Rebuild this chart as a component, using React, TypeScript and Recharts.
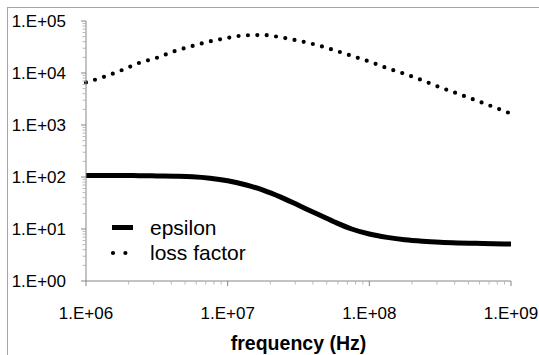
import React from 'react';
import { LineChart, Line, XAxis, YAxis, Legend } from 'recharts';

// frequency samples (Hz), 1/8 decade apart
const FREQUENCIES = [
  1.0e6, 1.334e6, 1.778e6, 2.371e6, 3.162e6, 4.217e6, 5.623e6, 7.499e6,
  1.0e7, 1.334e7, 1.778e7, 2.371e7, 3.162e7, 4.217e7, 5.623e7, 7.499e7,
  1.0e8, 1.334e8, 1.778e8, 2.371e8, 3.162e8, 4.217e8, 5.623e8, 7.499e8,
  1.0e9,
];
const EPSILON = [
  107, 107, 107, 106, 105, 103.5, 101, 95,
  85, 71, 56, 41, 28.5, 19.8, 13.8, 10.0,
  8.0, 6.9, 6.2, 5.8, 5.55, 5.4, 5.3, 5.2,
  5.15,
];
const LOSS_FACTOR = [
  6600, 8400, 11250, 15600, 19600, 26300, 33000, 40500,
  47300, 53000, 53700, 48600, 41700, 34800, 27600, 21400,
  16600, 12400, 9600, 7200, 5300, 4000, 3000, 2230,
  1650,
];

const X_MAJOR = [1e6, 1e7, 1e8, 1e9];
const X_LABELS = ['1.E+06', '1.E+07', '1.E+08', '1.E+09'];
const Y_MAJOR = [1, 10, 100, 1e3, 1e4, 1e5];
const Y_LABELS = ['1.E+00', '1.E+01', '1.E+02', '1.E+03', '1.E+04', '1.E+05'];
const MINOR_STEPS = [2, 3, 4, 5, 6, 7, 8, 9];

const withMinors = (majors: number[]) => {
  const out: number[] = [];
  majors.forEach((m, i) => {
    out.push(m);
    if (i < majors.length - 1) MINOR_STEPS.forEach((s) => out.push(m * s));
  });
  return out;
};

const X_TICKS = withMinors(X_MAJOR);
const Y_TICKS = withMinors(Y_MAJOR);

const data = FREQUENCIES.map((f, i) => ({ f, epsilon: EPSILON[i], loss: LOSS_FACTOR[i] }));

const AXIS = '#868686';
const MINOR = '#b8b8b8';
const FONT = '"Liberation Sans", Arial, sans-serif';

const XTick = ({ x, y, payload }: any) => {
  const idx = X_MAJOR.indexOf(payload.value);
  const major = idx >= 0;
  return (
    <g>
      <line x1={x} x2={x} y1={y} y2={y + (major ? 5 : 3.5)} stroke={major ? AXIS : MINOR} />
      {major && (
        <text x={x} y={y + 38} textAnchor="middle" fontSize={17} fontFamily={FONT} fill="#000">
          {X_LABELS[idx]}
        </text>
      )}
    </g>
  );
};

const YTick = ({ x, y, payload }: any) => {
  const idx = Y_MAJOR.indexOf(payload.value);
  const major = idx >= 0;
  return (
    <g>
      <line x1={x} x2={x - (major ? 5 : 3.5)} y1={y} y2={y} stroke={major ? AXIS : MINOR} />
      {major && (
        <text x={x - 20} y={y + 6} textAnchor="end" fontSize={17} fontFamily={FONT} fill="#000">
          {Y_LABELS[idx]}
        </text>
      )}
    </g>
  );
};

const LegendBox = () => (
  <div style={{ fontFamily: FONT, fontSize: 21, color: '#000', lineHeight: '25px' }}>
    <div style={{ display: 'flex', alignItems: 'center' }}>
      <svg width={42} height={25}>
        <line x1={4} x2={25} y1={12.5} y2={12.5} stroke="#000" strokeWidth={5} />
      </svg>
      <span>epsilon</span>
    </div>
    <div style={{ display: 'flex', alignItems: 'center' }}>
      <svg width={42} height={25}>
        <line x1={5} x2={18} y1={13} y2={13} stroke="#000" strokeWidth={4.2}
          strokeDasharray="0 12.4" strokeLinecap="round" />
      </svg>
      <span>loss factor</span>
    </div>
  </div>
);

const App: React.FC = () => {
  return (
    <div style={{ position: 'absolute', left: 0, top: 0, width: 539, height: 355, overflow: 'hidden', background: '#fff' }}>
      <div style={{
        position: 'absolute', left: 7, top: 7, width: 600, height: 400,
        borderTop: '1px solid #a6a6a6', borderLeft: '1px solid #a6a6a6',
      }} />
      <div style={{ position: 'absolute', left: 0, top: 0 }}>
        <LineChart width={539} height={355} data={data} margin={{ top: 21, right: 28, bottom: 0, left: 0 }}>
          <XAxis
            dataKey="f"
            type="number"
            scale="log"
            domain={[1e6, 1e9]}
            ticks={X_TICKS}
            interval={0}
            tick={<XTick />}
            tickLine={false}
            tickSize={0}
            tickMargin={0}
            axisLine={{ stroke: AXIS }}
            height={74}
            label={{
              value: 'frequency (Hz)', position: 'insideBottom', offset: 5,
              style: { fontFamily: FONT, fontSize: 19.5, fontWeight: 'bold', fill: '#000' },
            }}
          />
          <YAxis
            type="number"
            scale="log"
            domain={[1, 1e5]}
            ticks={Y_TICKS}
            interval={0}
            tick={<YTick />}
            tickLine={false}
            tickSize={0}
            tickMargin={0}
            axisLine={{ stroke: AXIS }}
            width={86}
          />
          <Legend
            layout="horizontal"
            verticalAlign="middle"
            content={<LegendBox />}
            wrapperStyle={{ left: 108, top: 215, width: 'auto' }}
          />
          <Line
            type="monotone"
            dataKey="epsilon"
            name="epsilon"
            stroke="#000"
            strokeWidth={5}
            dot={false}
            isAnimationActive={false}
          />
          <Line
            type="monotone"
            dataKey="loss"
            name="loss factor"
            stroke="#000"
            strokeWidth={4.2}
            strokeDasharray="0 9.4"
            strokeLinecap="round"
            dot={false}
            isAnimationActive={false}
          />
        </LineChart>
      </div>
    </div>
  );
};

export default App;
